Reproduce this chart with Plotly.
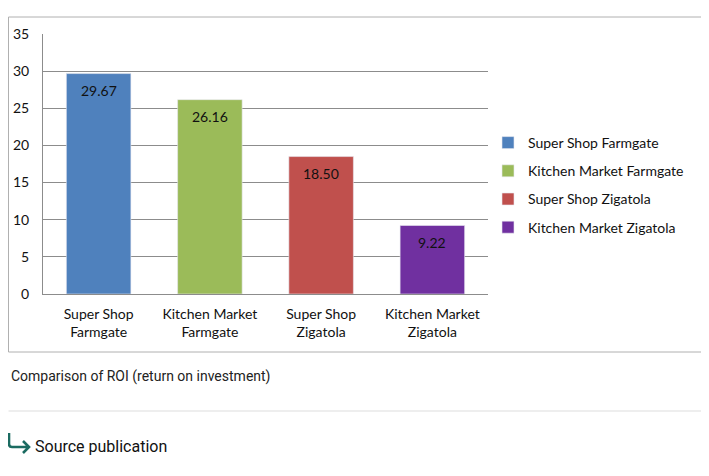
"""ROI comparison bar chart (Super Shop / Kitchen Market, Farmgate vs Zigatola)."""
import plotly.graph_objects as go

categories = ['Super Shop<br>Farmgate', 'Kitchen Market<br>Farmgate',
              'Super Shop<br>Zigatola', 'Kitchen Market<br>Zigatola']
series_names = ['Super Shop Farmgate', 'Kitchen Market Farmgate',
                'Super Shop Zigatola', 'Kitchen Market Zigatola']
roi_values = [29.67, 26.16, 18.50, 9.22]
bar_colors = ['#4F81BD', '#9BBB59', '#C0504D', '#7030A0']
y_ticks = [0, 5, 10, 15, 20, 25, 30, 35]

# page has an 8px body margin, so the figure is 8px smaller and shifted
OFF = 8
W, H = 709 - OFF, 476 - OFF
L, R, T, B = 43 - OFF, 488 - OFF, 34 - OFF, 294 - OFF   # plot area (figure px)


def px(x):
    """screen x -> paper x"""
    return (max(x - OFF, 0.5) - L) / (R - L)


def py(y):
    """screen y -> paper y"""
    return (B - (y - OFF)) / (B - T)


fig = go.Figure()
for cat, name, val, col in zip(categories, series_names, roi_values, bar_colors):
    fig.add_trace(go.Bar(
        x=[cat], y=[val], name=name, legendgroup=name,
        marker=dict(color=col, line=dict(color='#E8E8F0', width=0.6)),
        width=0.58,
    ))
    fig.add_annotation(x=cat, y=val, yanchor='middle', yshift=-17,
                       showarrow=False, text=f'{val:.2f}',
                       font=dict(family='Lato', size=14, color='#111111'))

# outer chart frame, caption, divider, source link
fig.add_shape(type='rect', xref='paper', yref='paper',
              x0=px(3), x1=px(702), y0=py(352), y1=py(17),
              line=dict(color='#B0B0B0', width=1))
fig.add_shape(type='line', xref='paper', yref='paper',
              x0=px(3), x1=px(703), y0=py(411), y1=py(411),
              line=dict(color='#DDDDDD', width=1))
fig.add_annotation(xref='paper', yref='paper', x=px(3), y=py(376),
                   xanchor='left', yanchor='middle', showarrow=False,
                   text='Comparison of ROI (return on investment)',
                   font=dict(family='Roboto', size=14, color='#222222'))

# hooked arrow before "Source publication"
ax0, ax1 = px(9), px(29)
ay_top, ay_mid = py(433), py(447)
head_dx, head_dy = px(23) - ax1, py(441) - ay_mid
arrow_path = (f'M {ax0} {ay_top} L {ax0} {py(444)} '
              f'Q {ax0} {ay_mid} {px(12)} {ay_mid} L {ax1} {ay_mid} '
              f'M {ax1 + head_dx} {ay_mid + head_dy} L {ax1} {ay_mid} '
              f'L {ax1 + head_dx} {ay_mid - head_dy}')
fig.add_shape(type='path', xref='paper', yref='paper', path=arrow_path,
              line=dict(color='#1B6B61', width=2.6))
fig.add_annotation(xref='paper', yref='paper', x=px(33), y=py(446),
                   xanchor='left', yanchor='middle', showarrow=False,
                   text='Source publication',
                   font=dict(family='Roboto', size=16, color='#111111'))

fig.update_layout(
    width=W, height=H,
    margin=dict(l=L, r=W - R, t=T, b=H - B, pad=0, autoexpand=False),
    paper_bgcolor='white', plot_bgcolor='white',
    barmode='overlay',
    font=dict(family='Lato', size=14, color='#111111'),
    showlegend=True,
    legend=dict(x=px(488), y=py(127), xanchor='left', yanchor='top',
                font=dict(family='Lato', size=14, color='#111111'),
                itemwidth=30, tracegroupgap=7, bgcolor='rgba(0,0,0,0)'),
    xaxis=dict(showline=True, linecolor='#8C8C8C', linewidth=1,
               ticks='', ticklabelstandoff=7, automargin=False,
               tickfont=dict(family='Lato', size=14)),
    yaxis=dict(range=[0, 35], tickvals=y_ticks, showline=True,
               linecolor='#8C8C8C', linewidth=1, automargin=False,
               showgrid=True, gridcolor='#8C8C8C', gridwidth=1,
               zeroline=False, ticks='', ticklabelstandoff=10,
               tickfont=dict(family='Lato', size=14)),
)

fig.write_html('out.html')
